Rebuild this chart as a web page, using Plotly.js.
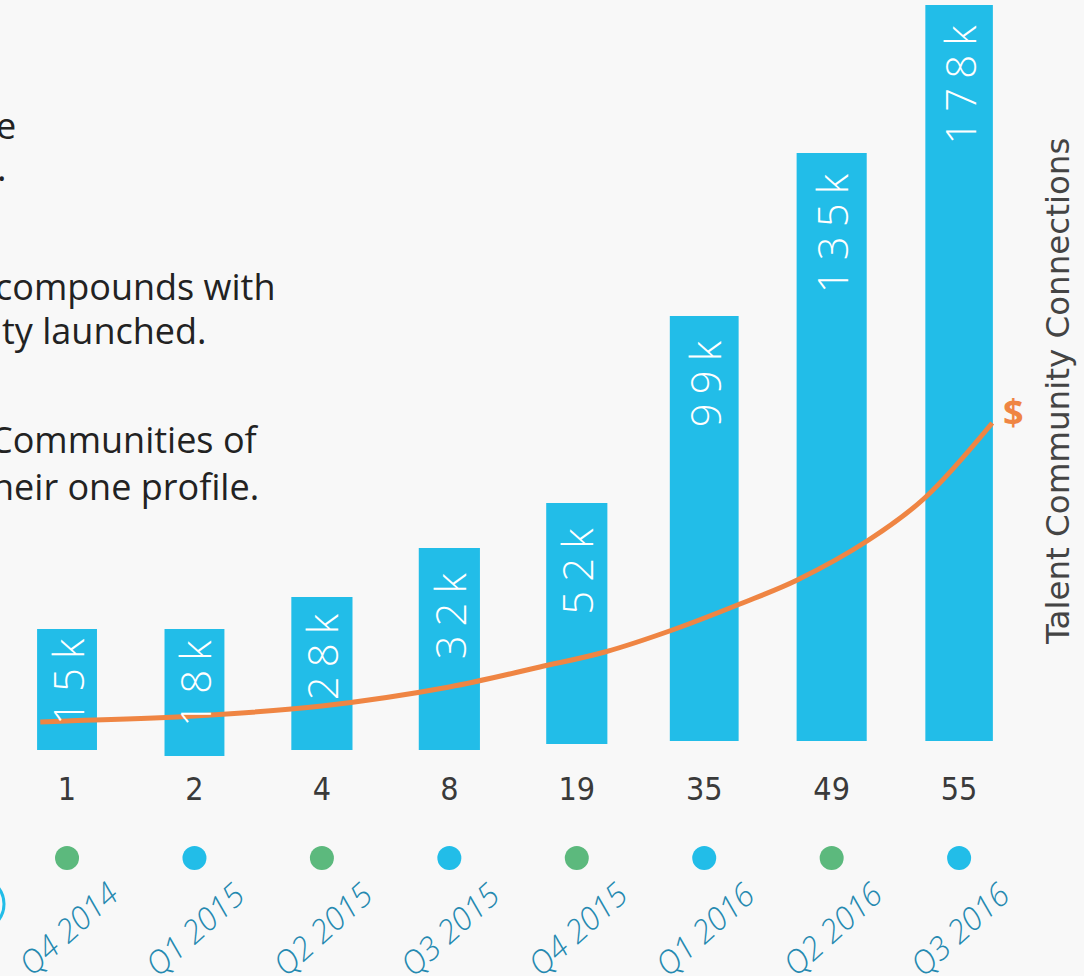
<!DOCTYPE html>
<html>
<head>
<meta charset="utf-8">
<script src="https://cdn.plot.ly/plotly-3.0.1.min.js"></script>
<style>
html, body { margin: 0; padding: 0; background: #f8f8f8; }
#chart { width: 1084px; height: 976px; }
</style>
</head>
<body>
<div id="chart"></div>
<script>
// ---- data ----
const quarters = ["Q4 2014", "Q1 2015", "Q2 2015", "Q3 2015", "Q4 2015", "Q1 2016", "Q2 2016", "Q3 2016"];
const connectionLabels = ["15k", "18k", "28k", "32k", "52k", "99k", "135k", "178k"];
// drawn bar heights (visual units, as drawn in the infographic) and their small base offsets
const barHeight = [121, 127, 153, 202, 241, 425, 588, 736];
const barBase = [0, -6, 0, 0, 6, 9, 9, 9];
const communities = [1, 2, 4, 8, 19, 35, 49, 55];
const dotColors = ["#5cb97d", "#22bde8", "#5cb97d", "#22bde8", "#5cb97d", "#22bde8", "#5cb97d", "#22bde8"];
// revenue ("$") curve, same visual units
const revenueX = [-0.21, 0, 1, 2, 3, 3.71, 4.22, 4.75, 5.28, 5.73, 6.29, 6.73, 7.26];
const revenueY = [28, 29, 34, 44, 63, 83, 98, 120, 146, 170, 210, 252, 327];

const barWidth = [0.47, 0.47, 0.48, 0.48, 0.48, 0.54, 0.55, 0.53];
const xIdx = quarters.map((q, i) => i);
const BLUE = "#22bde8";
const ORANGE = "#ef8543";
const LABEL_SPACING = 9;

const traces = [
  {
    type: "bar", x: xIdx, y: barHeight, base: barBase, width: barWidth,
    marker: { color: BLUE }, hoverinfo: "skip", showlegend: false
  },
  {
    type: "scatter", mode: "lines", x: revenueX, y: revenueY,
    line: { color: ORANGE, width: 5, shape: "spline", smoothing: 1 },
    hoverinfo: "skip", showlegend: false, cliponaxis: false
  },
  {
    type: "scatter", mode: "text", x: xIdx, y: xIdx.map(() => -42),
    text: communities.map(String),
    textfont: { family: "Liberation Sans Narrow, DejaVu Sans Condensed, sans-serif", size: 32, color: "#3a3a3a" },
    hoverinfo: "skip", showlegend: false, cliponaxis: false
  },
  {
    type: "scatter", mode: "markers", x: xIdx, y: xIdx.map(() => -108),
    marker: { color: dotColors, size: 24 },
    hoverinfo: "skip", showlegend: false, cliponaxis: false
  }
];

const annotations = [];
// bar value labels: near the top of each bar, with less padding on the shortest bars
connectionLabels.forEach((t, i) => {
  const pad = Math.min(22, 7 + (barHeight[i] - 121) * 0.2);
  annotations.push({
    x: i, y: barHeight[i] + barBase[i], xref: "x", yref: "y",
    text: t, showarrow: false, textangle: -90, yanchor: "top", xanchor: "center",
    yshift: -(pad + 5),
    font: { family: "Open Sans, sans-serif", size: 42, weight: 300, color: "#ffffff" }
  });
});
// quarter labels
quarters.forEach((q, i) => {
  annotations.push({
    x: i, y: -178, xref: "x", yref: "y",
    text: q, showarrow: false, textangle: -42,
    font: { family: "Open Sans, sans-serif", size: 32, weight: 300, style: "italic", color: "#2589b0" }
  });
});
// axis-style title on the right
annotations.push({
  x: 1058 / 1084, y: 1 - 392 / 976, xref: "paper", yref: "paper", xanchor: "center", yanchor: "middle",
  text: "Talent Community Connections", showarrow: false, textangle: -90,
  font: { family: "DejaVu Sans, sans-serif", size: 32.5, color: "#444444" }
});
// "$" marker for the revenue curve
annotations.push({
  x: 1013 / 1084, y: 1 - 411 / 976, xref: "paper", yref: "paper", xanchor: "center", yanchor: "middle",
  text: "<b>$</b>", showarrow: false,
  font: { family: "Open Sans, sans-serif", size: 36, color: ORANGE }
});
// cropped body text on the left
const sideText = [
  { t: "e", right: 18, mid: 126 },
  { t: ".", right: 8, mid: 168 },
  { t: "compounds with", right: 278, mid: 286 },
  { t: "ty launched.", right: 209, mid: 330 },
  { t: "Communities of", right: 261, mid: 440 },
  { t: "heir one profile.", right: 261, mid: 486 }
];
sideText.forEach(s => {
  annotations.push({
    x: s.right / 1084, y: 1 - s.mid / 976, xref: "paper", yref: "paper",
    xanchor: "right", yanchor: "middle", text: s.t, showarrow: false,
    font: { family: "Open Sans, sans-serif", size: 36, color: "#222222" }
  });
});

const layout = {
  width: 1084, height: 976,
  margin: { l: 0, r: 0, t: 0, b: 0 },
  paper_bgcolor: "#f8f8f8", plot_bgcolor: "#f8f8f8",
  xaxis: { range: [-0.526, 7.98], visible: false, fixedrange: true },
  yaxis: { range: [-226, 750], visible: false, fixedrange: true },
  annotations: annotations,
  shapes: [
    // partly visible ring cut off by the left edge
    { type: "circle", xref: "paper", yref: "paper",
      x0: -49 / 1084, x1: 4 / 1084, y0: 1 - 930.5 / 976, y1: 1 - 877.5 / 976,
      line: { color: BLUE, width: 3 }, fillcolor: "rgba(0,0,0,0)" }
  ],
  showlegend: false
};

Plotly.newPlot("chart", traces, layout, { staticPlot: true, displayModeBar: false }).then(() => {
  document.querySelectorAll(".annotation-text").forEach(el => {
    const t = el.textContent;
    if (connectionLabels.indexOf(t) >= 0) el.style.letterSpacing = LABEL_SPACING + "px";
  });
});
</script>
</body>
</html>
